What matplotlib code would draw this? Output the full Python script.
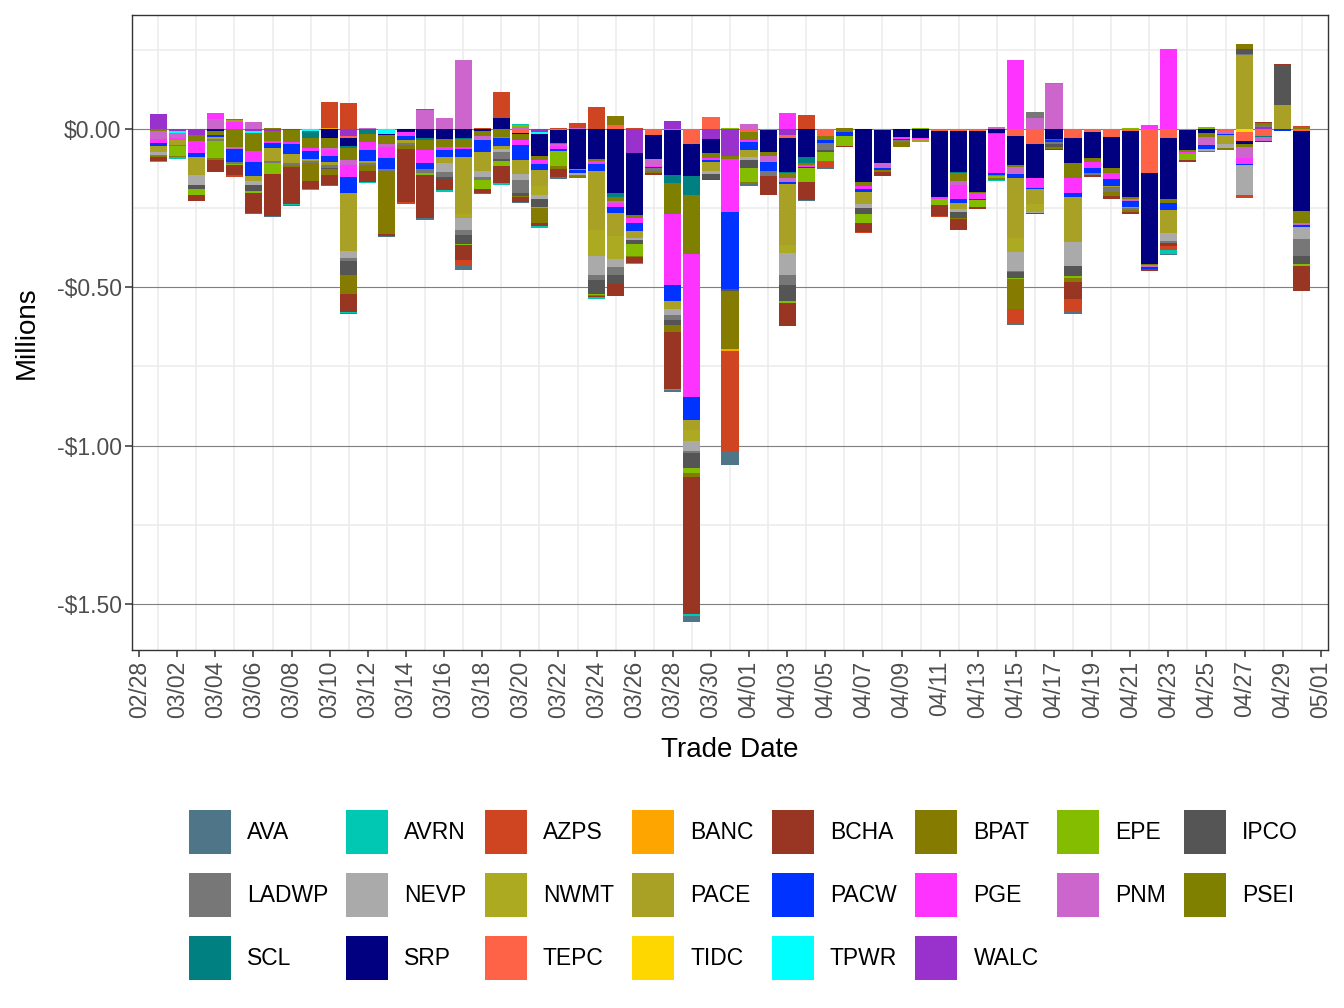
import matplotlib
matplotlib.use("Agg")
import matplotlib.pyplot as plt
import matplotlib.dates as mdates
import numpy as np
import pandas as pd

plt.rcParams['font.family'] = ['Liberation Sans', 'DejaVu Sans']

# one bar per trade day, 03/01 .. 04/30 (values in $ millions)
dates = pd.date_range("2023-03-01", "2023-04-30", freq="D")

names = ["AVA", "AVRN", "AZPS", "BANC", "BCHA", "BPAT", "EPE", "IPCO",
         "LADWP", "NEVP", "NWMT", "PACE", "PACW", "PGE", "PNM", "PSEI",
         "SCL", "SRP", "TEPC", "TIDC", "TPWR", "WALC"]

colors = ["#4F7589", "#00C8B3", "#D04521", "#FFA500", "#983623", "#847B00",
          "#84BC00", "#555555", "#777777", "#AAAAAA", "#ABAA21", "#A9A026",
          "#0033FF", "#FF33FF", "#CC66CC", "#808000", "#008080", "#000080",
          "#FF6347", "#FFD700", "#00FFFF", "#9932CC"]

AVA = [0, 0, 0, 0, -.002, -.006, -.003, -.003, 0, -.003,
       -.003, 0, -.003, 0, -.007, 0, -.013, -.003, 0, -.003,
       0, -.006, 0, 0, 0, 0, 0, -.004, -.019, 0,
       -.041, -.006, 0, 0, -.003, -.003, 0, -.003, 0, 0,
       0, 0, 0, 0, 0, -.003, 0, 0, -.009, 0,
       0, 0, 0, -.003, 0, 0, 0, 0, 0, 0,
       0]
AVRN = [-.003, -.004, 0, 0, 0, 0, 0, -.003, -.003, 0,
        -.003, -.003, 0, 0, 0, -.006, 0, 0, -.006, .004,
        -.006, 0, 0, -.006, 0, -.003, 0, -.005, -.006, 0,
        0, 0, 0, 0, 0, 0, 0, 0, 0, 0,
        0, 0, 0, 0, -.003, 0, 0, 0, 0, 0,
        0, 0, 0, -.013, 0, 0, 0, 0, 0, 0,
        0]
AZPS = [0, 0, 0, 0, -.004, 0, 0, 0, 0, .082,
        .082, 0, 0, -.006, .003, 0, -.016, .003, .082, 0,
        0, .003, .016, .069, 0, .003, 0, 0, 0, 0,
        -.319, 0, 0, 0, .044, -.019, 0, -.003, 0, 0,
        0, -.003, 0, 0, 0, -.047, 0, 0, -.038, 0,
        0, 0, 0, -.013, 0, 0, 0, -.009, 0, 0,
        .004]
BANC = [0, 0, 0, 0, 0, 0, 0, 0, 0, .003,
        0, 0, 0, 0, 0, 0, 0, 0, 0, 0,
        0, 0, 0, 0, 0, 0, 0, 0, 0, 0,
        -.006, 0, 0, 0, 0, 0, 0, 0, 0, 0,
        0, 0, 0, 0, 0, 0, 0, 0, 0, 0,
        0, 0, 0, 0, 0, 0, 0, 0, 0, 0,
        0]
BCHA = [-.011, 0, -.019, -.038, -.033, -.062, -.133, -.117, -.028, -.032,
        -.057, -.035, -.006, -.167, -.138, -.035, -.047, -.013, -.054, -.016,
        -.009, -.025, 0, -.006, -.038, -.019, -.006, -.180, -.433, -.004,
        0, 0, -.060, -.073, -.054, 0, -.003, -.028, -.013, 0,
        0, -.035, -.035, -.006, 0, 0, -.006, -.006, -.054, -.006,
        -.009, -.006, -.006, -.009, -.006, 0, -.003, -.003, .003, .002,
        -.079]
BPAT = [-.003, -.005, -.003, -.006, .004, 0, .004, -.006, -.054, -.016,
        -.060, -.019, -.199, -.013, 0, 0, 0, 0, 0, -.003,
        -.047, -.009, -.006, -.003, .028, -.003, -.006, -.022, -.013, 0,
        -.183, -.006, 0, 0, 0, -.003, .003, 0, -.006, -.016,
        0, 0, -.003, 0, -.004, -.095, 0, -.006, -.013, 0,
        -.013, -.006, 0, 0, 0, -.003, -.006, .016, .006, 0,
        .005]
EPE = [0, -.030, -.016, -.054, -.003, -.006, -.035, 0, 0, 0,
       0, 0, 0, 0, -.006, 0, -.006, -.028, -.016, .006,
       -.003, -.047, 0, -.003, 0, -.038, 0, 0, -.016, 0,
       .003, -.044, 0, -.006, -.047, -.028, -.032, -.028, 0, 0,
       .003, -.019, 0, -.022, -.006, -.003, 0, 0, -.006, 0,
       0, .003, 0, 0, -.019, .005, 0, 0, 0, 0,
       -.006]
IPCO = [-.002, 0, -.013, 0, 0, -.019, 0, 0, 0, -.006,
        -.044, 0, 0, 0, 0, -.006, -.028, 0, -.006, -.009,
        -.028, 0, 0, -.044, -.028, -.013, 0, -.016, -.047, -.016,
        -.009, -.025, 0, -.050, 0, -.006, 0, -.019, 0, 0,
        0, 0, -.019, 0, 0, -.019, 0, -.009, -.032, 0,
        0, 0, 0, 0, 0, 0, 0, .016, 0, .126,
        -.025]
LADWP = [-.003, -.005, 0, -.005, -.007, 0, -.006, -.006, -.009, -.009,
         -.009, -.006, -.006, -.006, -.013, -.016, -.016, -.009, -.022, -.041,
         0, 0, -.005, -.016, -.025, 0, -.009, -.013, -.006, 0,
         0, 0, -.016, -.032, 0, -.022, 0, 0, 0, -.006,
         0, 0, 0, 0, -.005, -.006, .019, -.006, 0, -.006,
         -.016, -.006, 0, -.006, 0, 0, 0, .003, .006, 0,
         -.054]
NEVP = [-.007, 0, -.032, 0, 0, -.013, 0, 0, 0, 0,
        -.025, 0, 0, 0, 0, -.028, -.038, -.019, -.010, -.019,
        -.013, 0, -.005, -.060, -.025, -.006, 0, -.022, -.032, -.009,
        0, -.009, 0, -.069, 0, 0, 0, -.013, 0, 0,
        0, 0, -.009, 0, 0, -.060, -.003, 0, -.076, 0,
        0, 0, 0, -.025, 0, -.006, -.013, -.092, 0, 0,
        -.038]
NWMT = [0, 0, 0, 0, 0, 0, 0, 0, 0, 0,
        0, 0, 0, 0, 0, 0, -.013, 0, 0, 0,
        -.028, 0, 0, -.082, -.073, 0, 0, 0, -.032, 0,
        0, 0, 0, -.025, 0, 0, 0, 0, 0, 0,
        0, 0, 0, 0, 0, -.044, -.025, 0, 0, 0,
        0, 0, 0, 0, 0, 0, 0, 0, 0, 0,
        0]
PACE = [-.020, -.016, -.057, -.006, .005, -.016, -.041, -.028, -.006, -.009,
        -.183, -.006, 0, -.009, 0, -.019, -.177, -.060, -.009, -.044,
        -.050, 0, 0, -.186, -.073, -.022, 0, -.025, -.032, -.028,
        0, -.022, 0, -.193, 0, 0, 0, -.038, 0, 0,
        -.009, 0, -.019, 0, 0, -.189, -.047, 0, -.142, 0,
        -.003, -.006, 0, -.073, 0, 0, -.028, .234, 0, .076,
        0]
PACW = [-.009, 0, -.013, -.008, -.042, -.044, -.016, -.032, -.025, -.019,
        -.050, -.035, -.035, -.013, -.016, -.022, -.028, -.038, -.025, -.047,
        -.019, -.006, -.009, -.022, -.019, -.025, -.003, -.050, -.073, -.006,
        -.243, -.028, -.028, -.006, -.003, -.009, -.013, -.009, -.006, -.003,
        0, 0, -.013, -.003, -.006, -.013, -.003, -.006, -.013, -.016,
        -.022, -.016, -.006, -.022, 0, -.013, -.003, -.003, -.003, -.006,
        -.006]
PGE = [-.013, -.006, -.038, .019, .022, -.035, -.006, -.006, -.009, -.019,
       -.036, -.025, -.035, -.013, -.041, -.009, -.006, 0, -.003, -.017,
       -.013, -.009, -.005, -.009, -.013, -.016, -.003, -.224, -.452, -.006,
       -.167, -.006, 0, .050, -.006, 0, 0, -.009, 0, -.006,
       -.003, -.006, -.044, -.019, -.123, .218, -.032, .003, -.047, -.019,
       -.019, 0, .012, .253, -.006, 0, 0, -.019, 0, 0,
       0]
PNM = [-.026, -.016, 0, .032, -.006, .022, 0, 0, 0, -.006,
       -.018, .003, -.009, 0, .060, .035, .218, -.013, 0, .006,
       0, -.006, .003, 0, -.006, 0, -.022, 0, 0, 0,
       0, .016, -.019, -.013, 0, 0, 0, 0, -.016, 0,
       0, 0, -.013, 0, .006, -.022, .035, .142, 0, 0,
       0, -.009, -.006, 0, 0, -.025, -.009, -.035, -.013, 0,
       -.006]
PSEI = [-.006, 0, -.018, -.010, -.056, -.057, -.029, -.038, -.032, -.032,
        -.038, -.025, -.027, 0, -.034, -.025, -.025, -.016, -.025, -.018,
        -.013, -.006, 0, -.006, -.013, -.009, 0, -.098, -.186, -.016,
        -.009, -.025, -.013, -.016, -.006, -.013, -.009, -.013, 0, 0,
        0, 0, -.025, -.003, -.003, -.006, 0, 0, -.047, -.013,
        -.016, -.006, -.003, -.013, -.006, -.013, 0, -.009, 0, 0,
        -.038]
SCL = [0, 0, 0, 0, 0, 0, 0, -.003, -.022, 0,
       -.006, -.016, 0, 0, -.006, 0, -.003, 0, 0, 0,
       0, 0, 0, 0, -.013, 0, 0, -.025, -.060, 0,
       0, 0, 0, -.003, -.019, 0, 0, 0, 0, 0,
       0, 0, -.003, 0, 0, 0, 0, -.003, 0, 0,
       0, 0, 0, 0, 0, 0, 0, -.003, -.003, 0,
       0]
SRP = [0, 0, 0, -.008, 0, 0, 0, 0, 0, -.028,
       -.024, 0, -.004, -.009, -.028, -.032, -.028, -.006, .035, -.004,
       -.069, -.040, -.126, -.095, -.202, -.196, -.076, -.142, -.101, -.044,
       0, 0, -.069, -.107, -.088, 0, 0, -.167, -.104, -.025,
       -.028, -.208, -.129, -.193, -.013, -.091, -.107, -.032, -.079, -.082,
       -.098, -.208, -.287, -.193, -.063, -.013, 0, -.009, 0, 0,
       -.253]
TEPC = [0, 0, 0, 0, 0, 0, 0, 0, 0, 0,
        -.007, 0, 0, 0, 0, 0, 0, 0, 0, -.012,
        0, -.003, 0, 0, .013, 0, -.019, -.003, -.048, .038,
        0, -.009, -.003, -.009, 0, -.022, 0, 0, -.003, 0,
        0, -.006, -.006, -.006, 0, -.022, -.047, 0, -.028, -.009,
        -.025, -.006, -.139, -.028, -.003, 0, -.006, -.028, -.022, 0,
        -.006]
TIDC = [0, 0, 0, 0, 0, 0, 0, 0, 0, 0,
        0, 0, 0, 0, 0, 0, 0, 0, 0, 0,
        0, 0, 0, 0, 0, 0, 0, 0, 0, 0,
        0, 0, 0, 0, 0, 0, 0, 0, 0, 0,
        0, 0, 0, 0, 0, 0, 0, 0, 0, 0,
        0, 0, 0, 0, 0, 0, 0, -.009, 0, 0,
        0]
TPWR = [0, -.004, 0, 0, 0, -.004, 0, 0, -.006, 0,
        0, 0, -.016, 0, 0, 0, 0, 0, 0, 0,
        -.006, 0, 0, 0, 0, 0, 0, 0, 0, 0,
        0, 0, 0, 0, 0, 0, 0, 0, 0, 0,
        0, 0, 0, 0, 0, 0, 0, 0, 0, 0,
        0, 0, 0, 0, 0, 0, 0, 0, 0, 0,
        0]
WALC = [.047, -.008, -.020, 0, 0, -.008, -.008, 0, 0, 0,
        -.022, 0, 0, 0, 0, 0, 0, 0, 0, 0,
        -.009, 0, 0, 0, 0, -.076, 0, .025, 0, -.032,
        -.085, 0, 0, -.019, 0, 0, 0, 0, 0, 0,
        0, 0, 0, 0, 0, 0, 0, 0, 0, 0,
        0, 0, 0, 0, 0, 0, 0, 0, .006, 0,
        0]

series = [AVA, AVRN, AZPS, BANC, BCHA, BPAT, EPE, IPCO, LADWP, NEVP, NWMT,
          PACE, PACW, PGE, PNM, PSEI, SCL, SRP, TEPC, TIDC, TPWR, WALC]

fig = plt.figure(figsize=(13.44, 10.08), dpi=100)
ax = fig.add_axes([0.0982, 0.3552, 0.8899, 0.630])

# background grid
for d in pd.date_range("2023-03-01", "2023-04-30", freq="2D"):
    ax.axvline(d, color="#EBEBEB", lw=1.1, zorder=0)
for y in [0.25, -0.25, -0.75, -1.25]:
    ax.axhline(y, color="#EBEBEB", lw=1.1, zorder=0)
for y in [0, -0.5, -1.0, -1.5]:
    ax.axhline(y, color="#7F7F7F", lw=0.8, zorder=0.5)

# stack: last name sits next to zero, first name farthest out
pos = np.zeros(len(dates))
neg = np.zeros(len(dates))
handles = {}
for name, col, vals in reversed(list(zip(names, colors, series))):
    v = np.array(vals, dtype=float)
    bottom = np.where(v >= 0, pos, neg)
    bars = ax.bar(dates, v, bottom=bottom, width=0.9, color=col,
                  linewidth=0, zorder=2, label=name)
    handles[name] = bars
    pos += np.clip(v, 0, None)
    neg += np.clip(v, None, 0)

ax.set_xlim(pd.Timestamp("2023-02-28") - pd.Timedelta(hours=9),
            pd.Timestamp("2023-05-01") + pd.Timedelta(hours=9))
ax.set_ylim(-1.645, 0.36)

ax.set_xticks(pd.date_range("2023-02-28", "2023-05-01", freq="2D"))
ax.xaxis.set_major_formatter(mdates.DateFormatter("%m/%d"))
ax.set_yticks([0, -0.5, -1.0, -1.5])
ax.set_yticklabels(["$0.00", "-$0.50", "-$1.00", "-$1.50"])
ax.tick_params(axis="x", labelrotation=90)
ax.tick_params(length=5, width=1.1, color="#333333", labelsize=16.5,
               labelcolor="#4D4D4D", pad=2.5)

for s in ax.spines.values():
    s.set_color("#333333")
    s.set_linewidth(1.0)

ax.set_xlabel("Trade Date", fontsize=20)
ax.xaxis.set_label_coords(0.5, -0.157)
ax.xaxis.label.set_va("center")
ax.set_ylabel("Millions", fontsize=20)
ax.yaxis.set_label_coords(-0.088, 0.5)
ax.yaxis.label.set_va("center")

# legend rows read left to right; matplotlib fills columns, so reorder
ncol = 8
order = []
for c in range(ncol):
    for r in range(3):
        i = r * ncol + c
        if i < len(names):
            order.append(names[i])
fig.legend([handles[n] for n in order], order, ncol=ncol,
           loc="center", bbox_to_anchor=(0.553, 0.112), frameon=False,
           fontsize=16.5, handlelength=1.83, handleheight=2.56,
           handletextpad=0.7, columnspacing=0.8, labelspacing=0.83)

fig.savefig("out.png", dpi=100)
